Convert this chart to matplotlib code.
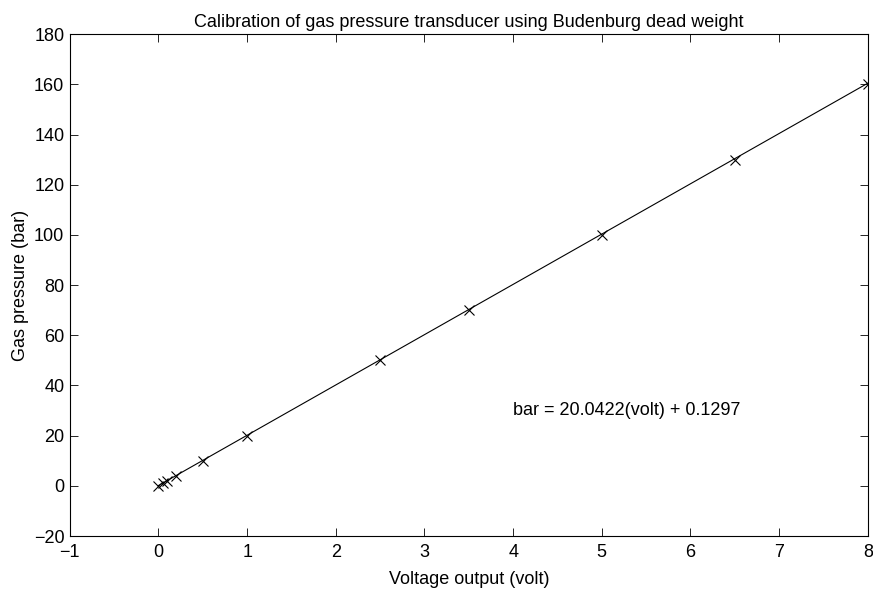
import numpy as np
import matplotlib
matplotlib.use('Agg')
import matplotlib.pyplot as plt

plt.rcParams['font.family'] = ['Liberation Sans', 'DejaVu Sans']
plt.rcParams['font.size'] = 13

# measured calibration points
volt = np.array([0, 0.05, 0.1, 0.2, 0.5, 1.0, 2.5, 3.5, 5.0, 6.5, 8.0])
bar = np.array([0, 1, 2, 4, 10, 20, 50, 70, 100, 130, 160])

# linear fit coefficients
slope = 20.0422
offset = 0.1297

fig = plt.figure(figsize=(8.73, 5.9), dpi=100)
ax = fig.add_axes([0.080, 0.0915, 0.914, 0.8505])

ax.plot(volt, bar, 'kx', markersize=7, markeredgewidth=0.8)
ax.plot(volt, slope*volt + offset, 'k-', linewidth=0.8)

ax.set_xlim([-1, 8])
ax.set_ylim([-20, 180])
ax.set_xticks(np.arange(-1, 9, 1))
ax.set_yticks(np.arange(-20, 181, 20))
ax.tick_params(direction='in', top=True, right=True, length=6, width=0.6, labelsize=13)
ax.tick_params(axis='x', pad=6)
ax.tick_params(axis='y', pad=4)
for s in ax.spines.values():
    s.set_linewidth(0.8)

ax.text(4.0, 30, 'bar = 20.0422(volt) + 0.1297', ha='left', va='center', fontsize=13)

ax.set_xlabel('Voltage output (volt)', labelpad=7)
ax.set_ylabel('Gas pressure (bar)', labelpad=3)
ax.set_title('Calibration of gas pressure transducer using Budenburg dead weight', fontsize=13, pad=5)

fig.savefig('out.png', dpi=100)
